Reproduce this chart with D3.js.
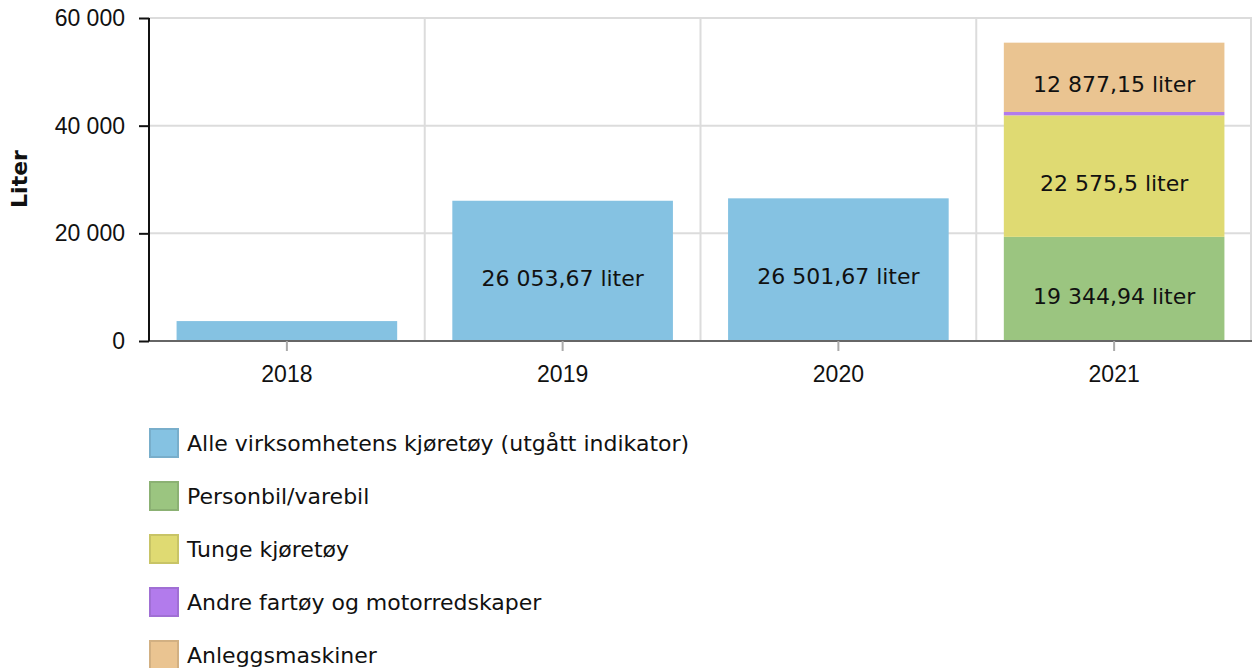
<!DOCTYPE html>
<html>
<head>
<meta charset="utf-8">
<script src="https://cdn.jsdelivr.net/npm/d3@7"></script>
<style>
  body { margin: 0; background: #fff; }
  svg { font-family: "DejaVu Sans", Verdana, sans-serif; }
</style>
</head>
<body>
<script>
// Data
var years = ["2018", "2019", "2020", "2021"];
var seriesNames = [
  "Alle virksomhetens kjøretøy (utgått indikator)",
  "Personbil/varebil",
  "Tunge kjøretøy",
  "Andre fartøy og motorredskaper",
  "Anleggsmaskiner"
];
var seriesColors = ["#85c2e2", "#9bc580", "#dfda72", "#b27bec", "#eac491"];
var allVehicles = [3700, 26053.67, 26501.67, 0];
var carVan = [0, 0, 0, 19344.94];
var heavy = [0, 0, 0, 22575.5];
var otherVessels = [0, 0, 0, 620];
var construction = [0, 0, 0, 12877.15];
var yTicks = [0, 20000, 40000, 60000];

var width = 1252, height = 668;
var margin = { top: 18, right: 0, left: 149 };
var innerW = width - margin.left - margin.right,
    innerH = 341 - margin.top;
var fs = 22, tickFs = 23;

var no = d3.formatLocale({ decimal: ",", thousands: "\u00a0", grouping: [3], currency: ["", " kr"] });
var tickFmt = no.format(",");
var valFmt = no.format(",.2~f");

var rows = years.map(function (y, i) {
  var r = { year: y };
  r[seriesNames[0]] = allVehicles[i];
  r[seriesNames[1]] = carVan[i];
  r[seriesNames[2]] = heavy[i];
  r[seriesNames[3]] = otherVessels[i];
  r[seriesNames[4]] = construction[i];
  return r;
});

var stacked = d3.stack().keys(seriesNames)(rows);

var svg = d3.select("body").append("svg")
  .attr("width", width)
  .attr("height", height);

var g = svg.append("g").attr("transform", "translate(" + margin.left + "," + margin.top + ")");

var x = d3.scaleBand().domain(years).range([0, innerW]).paddingInner(0.2).paddingOuter(0.1);
var y = d3.scaleLinear().domain([0, 60000]).range([innerH, 0]);

// grid lines
g.append("g").selectAll("line.h")
  .data(yTicks.slice(1))
  .enter().append("line")
  .attr("x1", 0).attr("x2", innerW)
  .attr("y1", function (d) { return y(d); })
  .attr("y2", function (d) { return y(d); })
  .attr("stroke", "#dcdcdc").attr("stroke-width", 2);

var bounds = years.map(function (d, i) { return (i + 1) * innerW / years.length; });
g.append("g").selectAll("line.v")
  .data(bounds)
  .enter().append("line")
  .attr("x1", function (d) { return Math.min(d, innerW - 1); })
  .attr("x2", function (d) { return Math.min(d, innerW - 1); })
  .attr("y1", 0).attr("y2", innerH)
  .attr("stroke", "#dcdcdc").attr("stroke-width", 2);

// bars
var layer = g.append("g").selectAll("g")
  .data(stacked)
  .enter().append("g")
  .attr("fill", function (d, i) { return seriesColors[i]; });

layer.selectAll("rect")
  .data(function (d) { return d; })
  .enter().append("rect")
  .attr("x", function (d) { return x(d.data.year); })
  .attr("width", x.bandwidth())
  .attr("y", function (d) { return y(d[1]); })
  .attr("height", function (d) { return y(d[0]) - y(d[1]); });

// value labels in segments large enough
var labels = [];
stacked.forEach(function (s) {
  s.forEach(function (d) {
    var v = d[1] - d[0];
    if (v > 10000) labels.push({ year: d.data.year, mid: (d[0] + d[1]) / 2, v: v });
  });
});
g.append("g").selectAll("text")
  .data(labels)
  .enter().append("text")
  .attr("x", function (d) { return x(d.year) + x.bandwidth() / 2; })
  .attr("y", function (d) { return y(d.mid) + 7; })
  .attr("dy", "0.35em")
  .attr("text-anchor", "middle")
  .attr("font-size", fs)
  .attr("fill", "#111")
  .text(function (d) { return valFmt(d.v) + " liter"; });

// x axis
var xAxis = g.append("g")
  .attr("transform", "translate(0," + innerH + ")")
  .call(d3.axisBottom(x).tickSize(10).tickPadding(15));
xAxis.select(".domain").attr("stroke", "#666").attr("stroke-width", 2).attr("d", "M0,0H" + innerW);
xAxis.selectAll(".tick line").attr("stroke", "#aaa").attr("stroke-width", 2);
xAxis.selectAll("text").attr("font-size", tickFs).attr("fill", "#111").attr("font-family", null);

// y axis
var yAxis = g.append("g")
  .call(d3.axisLeft(y).tickValues(yTicks).tickFormat(tickFmt).tickSize(10).tickPadding(14));
yAxis.select(".domain").attr("stroke", "#111").attr("stroke-width", 2).attr("d", "M0," + innerH + "V0");
yAxis.selectAll(".tick line").attr("stroke", "#111").attr("stroke-width", 2);
yAxis.selectAll("text").attr("font-size", tickFs).attr("fill", "#111").attr("font-family", null);

svg.append("text")
  .attr("transform", "translate(27,179) rotate(-90)")
  .attr("text-anchor", "middle")
  .attr("font-size", fs)
  .attr("font-weight", "bold")
  .attr("fill", "#111")
  .text("Liter");

// legend
var legend = svg.append("g").attr("transform", "translate(149,428)");
var item = legend.selectAll("g")
  .data(seriesNames)
  .enter().append("g")
  .attr("transform", function (d, i) { return "translate(0," + i * 53 + ")"; });
item.append("rect")
  .attr("x", 1).attr("y", 1).attr("width", 28).attr("height", 28)
  .attr("fill", function (d, i) { return seriesColors[i]; })
  .attr("stroke", function (d, i) { return d3.color(seriesColors[i]).darker(0.3); })
  .attr("stroke-width", 2);
item.append("text")
  .attr("x", 38).attr("y", 15).attr("dy", "0.35em")
  .attr("font-size", fs)
  .attr("fill", "#111")
  .text(function (d) { return d; });
</script>
</body>
</html>
